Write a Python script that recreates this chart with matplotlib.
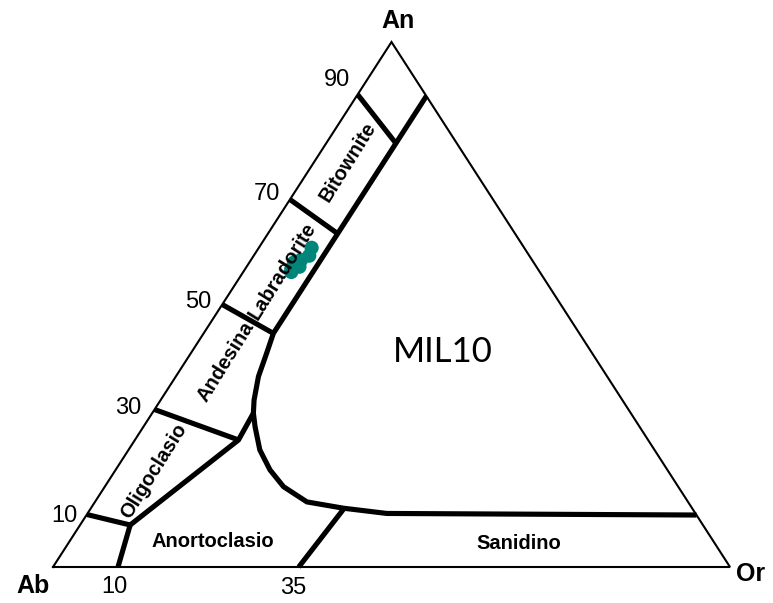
import numpy as np
import matplotlib.pyplot as plt

# feldspar ternary An-Ab-Or, compositions in percent (An, Or); Ab = 100 - An - Or

# plagioclase tie lines: start on the Ab-An side, end on the solvus boundary
plag_ticks = [90, 70, 50, 30, 10]
plag_end_an = [80.7, 63.5, 44.5, 24.2, 8.0]
plag_end_or = [10.3, 10.3, 10.3, 15.3, 7.4]

# An-rich limit of the plagioclase field and the bend down to the solvus
upper_an = [89.7, 44.5, 40.7, 36.3, 31.8, 29.3]
upper_or = [10.3, 10.3, 11.2, 12.2, 13.8, 14.95]

# branch towards Ab (oligoclase / anorthoclase limit)
left_an = [29.3, 24.2, 8.0]
left_or = [14.95, 15.3, 7.4]

# branch towards Or (lower limit of the miscibility gap)
right_an = [29.3, 26.7, 22.3, 18.5, 15.3, 12.4, 11.2, 10.2, 9.9]
right_or = [14.95, 16.5, 19.4, 22.8, 26.4, 31.3, 37.3, 44.2, 90.1]

# alkali feldspar dividers on the Ab-Or side
ab10_an = [0.0, 8.0]
ab10_or = [9.6, 7.4]
or35_an = [0.0, 11.0]
or35_or = [36.3, 37.4]

# sample MIL10
mil_an = [60.8, 59.3, 58.5, 57.2, 56.8, 58.0, 56.2]
mil_or = [7.8, 8.2, 7.4, 7.8, 6.8, 6.6, 7.1]


def tern(an, orr):
    an = np.asarray(an, dtype=float) / 100.0
    orr = np.asarray(orr, dtype=float) / 100.0
    return orr + an / 2.0, an


fig = plt.figure(figsize=(7.73, 6.03), dpi=100)
ax = fig.add_axes([0, 0, 1, 1])
ax.set_xlim(-53 / 677, 720 / 677)
ax.set_ylim(-36 / 525, 567 / 525)
ax.axis("off")

thick = dict(color="black", lw=3.7, solid_capstyle="butt", solid_joinstyle="round", zorder=3)

# outer triangle
x, y = tern([0, 0, 100, 0], [0, 100, 0, 0])
ax.plot(x, y, color="black", lw=1.5, solid_joinstyle="miter", zorder=2)

for t, ea, eo in zip(plag_ticks, plag_end_an, plag_end_or):
    x, y = tern([t, ea], [0, eo])
    ax.plot(x, y, **thick)

for a, o in [(upper_an, upper_or), (left_an, left_or), (right_an, right_or),
             (ab10_an, ab10_or), (or35_an, or35_or)]:
    x, y = tern(a, o)
    ax.plot(x, y, **thick)

x, y = tern(mil_an, mil_or)
ax.scatter(x, y, s=105, color="#00857b", edgecolors="none", zorder=4)

sans = ["Liberation Sans", "DejaVu Sans"]

# corner names
ax.text(0.5096, 1.040, "An", ha="center", va="center", fontsize=18, fontweight="bold", family=sans)
ax.text(-0.0295, -0.036, "Ab", ha="center", va="center", fontsize=18, fontweight="bold", family=sans)
ax.text(1.031, -0.013, "Or", ha="center", va="center", fontsize=18, fontweight="bold", family=sans)

# An values along the Ab-An side
tick_off = [(-21, 14), (-23, 6), (-24, 3), (-26, 2), (-22, -2)]
for t, off in zip(plag_ticks, tick_off):
    x, y = tern(t, 0)
    ax.annotate(str(t), (x, y), xytext=off, textcoords="offset pixels",
                ha="center", va="center", fontsize=17, family=sans)

# Or values along the Ab-Or side
for t, off in zip([10, 35], [(-6, -20), (3, -21)]):
    x, y = tern(0, t)
    ax.annotate(str(t), (x, y), xytext=off, textcoords="offset pixels",
                ha="center", va="center", fontsize=17, family=sans)

# field names
fields = [
    ("Bitownite", 0.435, 0.772, 58),
    ("Labradorite", 0.338, 0.564, 58),
    ("Andesina", 0.2555, 0.3905, 58),
    ("Oligoclasio", 0.149, 0.183, 58),
    ("Anortoclasio", 0.2363, 0.0495, 0),
    ("Sanidino", 0.6883, 0.0457, 0),
]
for name, fx, fy, rot in fields:
    ax.text(fx, fy, name, ha="center", va="center", rotation=rot, rotation_mode="anchor",
            fontsize=14.5, fontweight="bold", family=sans, zorder=5)

ax.text(0.5765, 0.4095, "MIL10", ha="center", va="center", fontsize=25,
        family=["Lato", "DejaVu Sans"])

fig.savefig("out.png", dpi=100, facecolor="white")
